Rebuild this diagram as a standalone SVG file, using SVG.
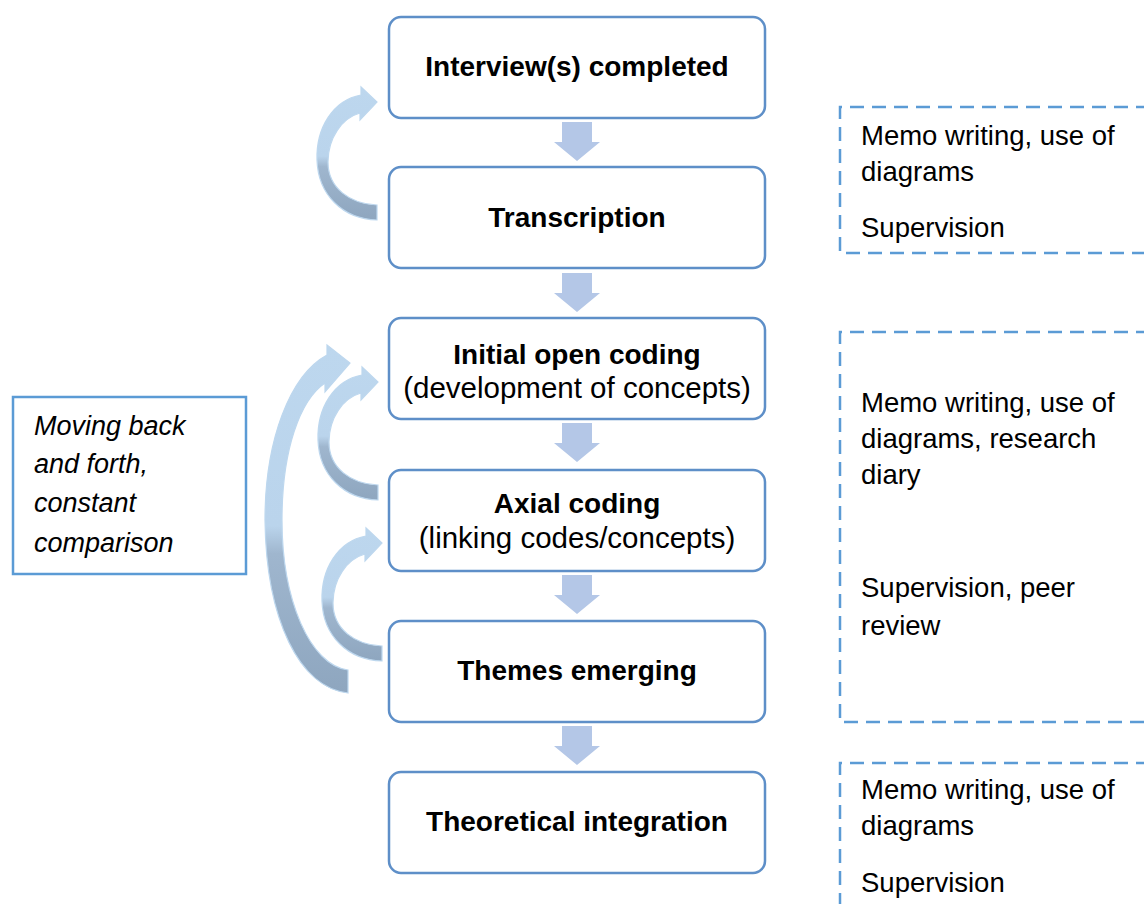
<svg xmlns="http://www.w3.org/2000/svg" width="1144" height="904" viewBox="0 0 1144 904">
<defs>
<style>
.box{fill:#fff;stroke:#5E8FC8;stroke-width:2.5}
.dash{fill:none;stroke:#5B9BD5;stroke-width:2.5;stroke-dasharray:14 8}
.note{fill:#fff;stroke:#5B9BD5;stroke-width:2.5}
.t{font-family:"Liberation Sans",Arial,sans-serif;fill:#000}
.b{font-weight:bold;font-size:28px;text-anchor:middle}
.r{font-size:29.5px;text-anchor:middle}
.s{font-size:27.5px}
.i{font-size:27px;font-style:italic}
.down{fill:#B4C7E7}
.curve{fill:url(#cg);stroke:#BDD7EE;stroke-width:1.2}
</style>
<linearGradient id="cg" x1="0" y1="0" x2="0" y2="1">
<stop offset="0" stop-color="#BDD7EE"/>
<stop offset="0.52" stop-color="#BAD4EC"/>
<stop offset="0.6" stop-color="#9FB6CE"/>
<stop offset="1" stop-color="#8EA6BF"/>
</linearGradient>
<path id="ca" d="M377,220 C343,219 318,195 317,160 C316,128 333,100 361,95 L361,87 L377,102 L360,120 L360,113 C342,118 328,138 328,162 C328,188 350,204 377,205 Z"/>
<polygon id="da" points="562,0 592,0 592,20 600,20 577,39 554,20 562,20"/>
</defs>
<rect width="1144" height="904" fill="#fff"/>

<g id="connectors">
<use href="#da" class="down" transform="translate(0,122)"/>
<use href="#da" class="down" transform="translate(0,273)"/>
<use href="#da" class="down" transform="translate(0,423)"/>
<use href="#da" class="down" transform="translate(0,575)"/>
<use href="#da" class="down" transform="translate(0,726)"/>
<use href="#ca" class="curve"/>
<use href="#ca" class="curve" transform="translate(1,280)"/>
<use href="#ca" class="curve" transform="translate(5,441)"/>
<path class="curve" d="M348,693 C300,688 266,620 265,520 C265,440 290,375 327,355 L327,345 L350,363 L325,392 L325,383 C300,400 282,450 282,520 C282,600 310,665 348,670 Z"/>
</g>

<g id="n1"><rect class="box" x="389" y="17" width="376" height="101" rx="12"/>
<text class="t b" x="577" y="76">Interview(s) completed</text></g>
<g id="n2"><rect class="box" x="389" y="167" width="376" height="101" rx="12"/>
<text class="t b" x="577" y="227">Transcription</text></g>
<g id="n3"><rect class="box" x="389" y="318" width="376" height="101" rx="12"/>
<text class="t b" x="577" y="364">Initial open coding</text>
<text class="t r" x="577" y="398">(development of concepts)</text></g>
<g id="n4"><rect class="box" x="389" y="470" width="376" height="101" rx="12"/>
<text class="t b" x="577" y="513">Axial coding</text>
<text class="t r" x="577" y="548">(linking codes/concepts)</text></g>
<g id="n5"><rect class="box" x="389" y="621" width="376" height="101" rx="12"/>
<text class="t b" x="577" y="680">Themes emerging</text></g>
<g id="n6"><rect class="box" x="389" y="772" width="376" height="101" rx="12"/>
<text class="t b" x="577" y="831">Theoretical integration</text></g>

<g id="note-left"><rect class="note" x="13" y="397" width="233" height="177"/>
<text class="t i" x="34" y="435">Moving back</text>
<text class="t i" x="34" y="473">and forth,</text>
<text class="t i" x="34" y="512">constant</text>
<text class="t i" x="34" y="552">comparison</text></g>

<g id="note-a"><path class="dash" d="M1150,107 H840 V253 H1150"/>
<text class="t s" x="861" y="145">Memo writing, use of</text>
<text class="t s" x="861" y="181">diagrams</text>
<text class="t s" x="861" y="237">Supervision</text></g>

<g id="note-b"><path class="dash" d="M1150,332 H840 V722 H1150"/>
<text class="t s" x="861" y="412">Memo writing, use of</text>
<text class="t s" x="861" y="448">diagrams, research</text>
<text class="t s" x="861" y="484">diary</text>
<text class="t s" x="861" y="597">Supervision, peer</text>
<text class="t s" x="861" y="635">review</text></g>

<g id="note-c"><path class="dash" d="M1150,763 H840 V910"/>
<text class="t s" x="861" y="799">Memo writing, use of</text>
<text class="t s" x="861" y="835">diagrams</text>
<text class="t s" x="861" y="892">Supervision</text></g>
</svg>
